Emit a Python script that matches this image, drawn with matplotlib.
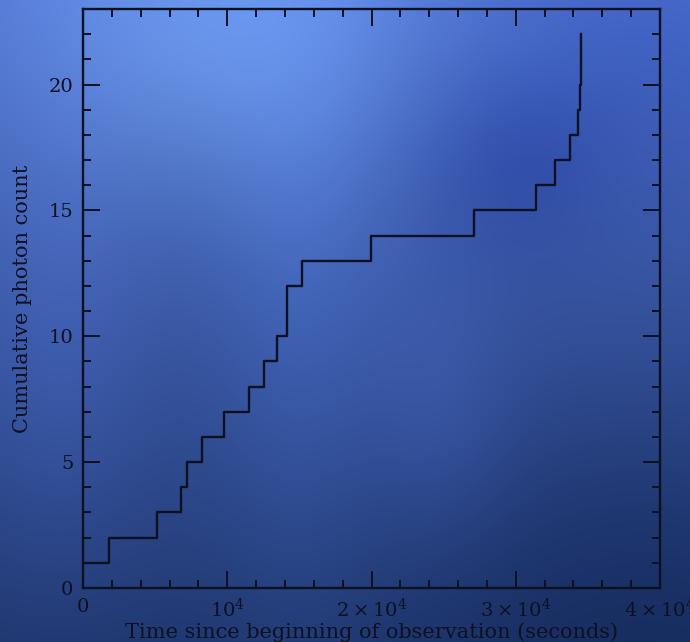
import numpy as np
import matplotlib
matplotlib.use("Agg")
import matplotlib.pyplot as plt
from matplotlib.ticker import MultipleLocator, FixedLocator, FixedFormatter

# photon arrival times (s) and the cumulative count after each arrival
arrival_times = [0, 1800, 5110, 6770, 7210, 8250, 9800, 11510, 12570, 13450,
                 14120, 14160, 15180, 19950, 27130, 31400, 32740, 33740,
                 34340, 34450, 34510, 34550]
counts = list(range(1, len(arrival_times) + 1))

xtick_vals = [0, 10000, 20000, 30000, 40000]
xtick_labels = ["0", r"$10^4$", r"$2\times10^4$", r"$3\times10^4$", r"$4\times10^4$"]

plt.rcParams["font.family"] = ["DejaVu Serif"]
plt.rcParams["mathtext.fontset"] = "dejavuserif"

W, H = 690, 642
fig = plt.figure(figsize=(W / 100, H / 100), dpi=100)

# blurry blue backdrop
yy, xx = np.mgrid[0:H, 0:W].astype(float)
t = yy / H
img = np.zeros((H, W, 3))
top = np.array([78, 112, 205.0])
bot = np.array([32, 56, 112.0])
for c in range(3):
    img[..., c] = top[c] * (1 - t) + bot[c] * t

def blob(cx, cy, sx, sy, col):
    g = np.exp(-(((xx - cx) / sx) ** 2 + ((yy - cy) / sy) ** 2) / 2)
    for c in range(3):
        img[..., c] += col[c] * g

blob(215, 35, 150, 120, (28, 38, 32))
blob(300, 330, 60, 220, (8, 12, 20))
blob(440, 420, 50, 90, (8, 10, 18))
blob(510, 160, 70, 70, (-14, -16, -10))
blob(640, 560, 160, 140, (-10, -12, -18))
blob(60, 360, 60, 160, (8, 10, 18))
blob(640, 40, 120, 120, (-10, -10, -5))
img = np.clip(img, 0, 255) / 255

bg = fig.add_axes([0, 0, 1, 1])
bg.imshow(img, aspect="auto", interpolation="bilinear")
bg.axis("off")

ax = fig.add_axes([83 / W, (H - 588) / H, (660 - 83) / W, (588 - 9) / H])
ax.patch.set_alpha(0)
ink = "#0d1020"

ax.step(arrival_times, counts, where="post", color=ink, lw=1.7)

ax.set_xlim(0, 40000)
ax.set_ylim(0, 23)
ax.xaxis.set_major_locator(FixedLocator(xtick_vals))
ax.xaxis.set_major_formatter(FixedFormatter(xtick_labels))
ax.xaxis.set_minor_locator(MultipleLocator(2000))
ax.yaxis.set_major_locator(MultipleLocator(5))
ax.yaxis.set_minor_locator(MultipleLocator(1))
ax.tick_params(which="both", direction="in", top=True, right=True,
               color=ink, width=1.4, labelsize=14, labelcolor=ink)
ax.tick_params(which="major", length=12, pad=7)
ax.tick_params(which="minor", length=6)
for s in ax.spines.values():
    s.set_color(ink)
    s.set_linewidth(1.7)

ax.set_xlabel("Time since beginning of observation (seconds)", fontsize=15,
              color=ink, labelpad=1)
ax.set_ylabel("Cumulative photon count", fontsize=15, color=ink, labelpad=12)

fig.savefig("out.png", dpi=100)
